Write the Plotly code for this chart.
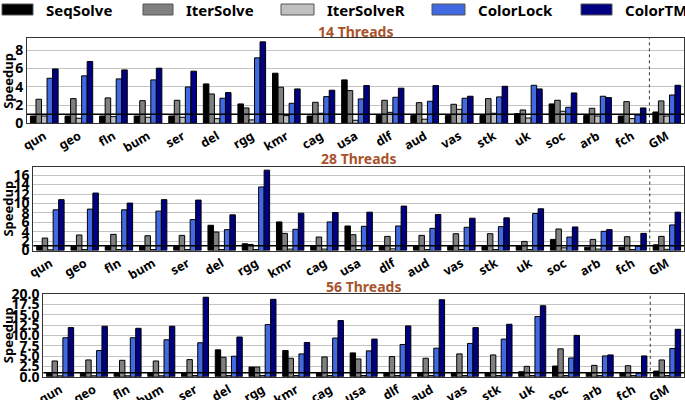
import plotly.graph_objects as go

categories = ["qun", "geo", "fln", "bum", "ser", "del", "rgg", "kmr", "cag", "usa",
              "dlf", "aud", "vas", "stk", "uk", "soc", "arb", "fch", "GM"]
series_names = ["SeqSolve", "IterSolve", "IterSolveR", "ColorLock", "ColorTM"]
series_colors = ["#000000", "#808080", "#c0c0c0", "#4169e1", "#000080"]

# 14 threads
seq14 = [0.80, 0.80, 0.80, 0.80, 0.80, 4.31, 2.12, 5.48, 0.80, 4.75, 0.84, 0.84, 0.84, 0.84, 1.06, 2.12, 0.84, 0.80, 1.24]
iter14 = [2.63, 2.70, 2.78, 2.48, 2.52, 3.21, 1.68, 3.95, 2.30, 3.58, 2.52, 2.26, 2.08, 2.70, 1.46, 2.52, 1.64, 2.37, 2.45]
iterR14 = [0.80, 0.55, 0.73, 0.66, 0.66, 0.51, 0.37, 0.84, 1.10, 0.33, 1.20, 0.45, 1.53, 1.10, 0.58, 1.32, 0.80, 0.51, 0.80]
cl14 = [4.93, 5.19, 4.86, 4.75, 3.98, 2.74, 7.16, 2.19, 2.92, 2.67, 2.85, 2.41, 2.74, 2.89, 4.16, 1.75, 2.96, 0.91, 3.10]
tm14 = [5.95, 6.76, 5.84, 6.03, 5.70, 3.36, 8.91, 3.76, 3.62, 4.13, 3.84, 4.13, 2.96, 4.05, 3.76, 3.32, 2.81, 1.68, 4.16]

# 28 threads
seq28 = [0.86, 0.86, 0.86, 0.86, 0.86, 5.36, 1.43, 6.07, 0.86, 5.21, 0.86, 0.86, 0.86, 0.86, 1.00, 2.36, 0.71, 0.71, 1.21]
iter28 = [2.64, 3.29, 3.43, 3.14, 3.21, 3.93, 1.29, 3.64, 2.86, 3.36, 3.00, 3.21, 3.57, 3.57, 1.93, 4.57, 2.36, 2.93, 3.00]
iterR28 = [0.15, 0.20, 0.20, 0.20, 0.20, 0.20, 0.20, 0.30, 0.30, 0.20, 0.36, 0.20, 0.20, 0.20, 0.20, 0.57, 0.30, 0.20, 0.25]
cl28 = [8.64, 8.79, 8.64, 8.36, 6.57, 4.43, 13.50, 4.50, 6.07, 5.14, 5.21, 4.71, 4.93, 5.07, 7.86, 2.86, 4.07, 0.86, 5.43]
tm28 = [10.80, 12.20, 10.07, 10.80, 10.71, 7.57, 17.07, 7.93, 8.07, 8.14, 9.43, 7.64, 6.86, 6.93, 8.86, 5.00, 4.43, 3.64, 8.14]

# 56 threads
seq56 = [0.90, 0.90, 0.90, 0.90, 0.90, 6.50, 2.36, 6.34, 0.90, 5.77, 0.90, 0.90, 0.90, 0.90, 1.22, 2.60, 0.90, 0.90, 1.38]
iter56 = [3.82, 4.07, 3.98, 3.82, 4.15, 4.72, 2.36, 4.47, 4.80, 4.31, 4.88, 4.47, 5.53, 5.28, 2.52, 6.75, 2.76, 2.68, 4.07]
iterR56 = [0.25, 0.25, 0.25, 0.25, 0.30, 0.30, 0.30, 0.30, 0.30, 0.30, 0.30, 0.30, 0.30, 0.30, 0.30, 0.30, 0.30, 0.30, 0.30]
cl56 = [9.43, 6.34, 9.43, 8.94, 8.21, 4.96, 12.60, 5.53, 9.35, 6.26, 7.80, 6.90, 8.05, 9.10, 14.55, 4.55, 5.04, 0.90, 6.83]
tm56 = [11.87, 12.20, 11.70, 12.20, 19.20, 9.60, 18.70, 8.29, 13.58, 9.10, 12.28, 18.60, 11.87, 12.68, 17.15, 10.00, 5.28, 5.04, 11.46]

panel_titles = ["14 Threads", "28 Threads", "56 Threads"]
panel_data = [[seq14, iter14, iterR14, cl14, tm14],
              [seq28, iter28, iterR28, cl28, tm28],
              [seq56, iter56, iterR56, cl56, tm56]]
y_max = [9.3, 17.8, 20.1]
y_dtick = [2, 2, 2.5]
y_fmt = ["d", "d", ".1f"]

W, H = 685, 400
FONT = "Noto Sans"
TITLE_COLOR = "#a9532d"

# pixel layout of each panel: left, top, bottom
geom = [(27, 38.3, 123.3), (33.3, 166.7, 250.5), (43.3, 293.5, 376.8)]
right_px = 684
title_y_px = [31, 158, 286]


def fx(p):
    return p / W


def fy(p):
    return 1 - p / H


fig = go.Figure()
layout = dict(
    width=W, height=H, autosize=False,
    margin=dict(l=0, r=0, t=0, b=0, pad=0, autoexpand=False),
    paper_bgcolor="white", plot_bgcolor="white",
    barmode="group", bargap=0.2, bargroupgap=0.0,
    showlegend=False,
    font=dict(family=FONT, color="black", size=13, weight="bold"),
)
shapes = []
annotations = []

for i in range(3):
    n = "" if i == 0 else str(i + 1)
    left, top, bottom = geom[i]
    for s in range(5):
        fig.add_trace(go.Bar(
            x=categories, y=panel_data[i][s], name=series_names[s],
            marker=dict(color=series_colors[s], line=dict(color="black", width=1)),
            xaxis="x" + n, yaxis="y" + n, showlegend=False,
        ))
    layout["xaxis" + n] = dict(
        domain=[fx(left), fx(right_px)], anchor="y" + n,
        range=[-0.5, len(categories) - 0.5], automargin=False,
        tickangle=-30, ticks="", showline=True, mirror=True,
        linecolor="#333333", linewidth=1,
        tickfont=dict(family=FONT, size=12.5, weight="bold", color="black"),
        showgrid=False,
    )
    layout["yaxis" + n] = dict(
        domain=[fy(bottom), fy(top)], anchor="x" + n, automargin=False,
        range=[0, y_max[i]], dtick=y_dtick[i], tick0=0, tickformat=y_fmt[i],
        showgrid=True, gridcolor="#c4c4c4", gridwidth=1.3,
        showline=True, mirror=True, linecolor="#333333", linewidth=1,
        ticks="", zeroline=False,
        tickfont=dict(family=FONT, size=14, weight="bold", color="black"),
    )
    # speedup = 1 reference line
    shapes.append(dict(type="line", xref="x" + n + " domain", x0=0, x1=1,
                       yref="y" + n, y0=1, y1=1,
                       line=dict(color="black", width=1.5)))
    # separator before GM
    shapes.append(dict(type="line", xref="x" + n, x0=17.5, x1=17.5,
                       yref="y" + n + " domain", y0=0, y1=1,
                       line=dict(color="#333333", width=1, dash="dot")))
    annotations.append(dict(text=panel_titles[i], xref="paper", yref="paper",
                            x=fx((left + right_px) / 2), y=fy(title_y_px[i]),
                            showarrow=False, xanchor="center", yanchor="middle",
                            font=dict(family=FONT, size=14, weight="bold", color=TITLE_COLOR)))
    annotations.append(dict(text="Speedup", xref="paper", yref="paper",
                            x=fx(8), y=fy((top + bottom) / 2), textangle=-90,
                            showarrow=False, xanchor="center", yanchor="middle",
                            font=dict(family=FONT, size=13, weight="bold", color="black")))

# legend row (swatches + labels)
swatch_x = [(2, 33), (143, 173), (281, 314), (432, 465), (581, 612)]
label_x = [44, 184, 325, 476, 623]
for s in range(5):
    x0, x1 = swatch_x[s]
    shapes.append(dict(type="rect", xref="paper", yref="paper",
                       x0=fx(x0), x1=fx(x1), y0=fy(15), y1=fy(4),
                       fillcolor=series_colors[s], line=dict(color="#555555", width=1)))
    annotations.append(dict(text=series_names[s], xref="paper", yref="paper",
                            x=fx(label_x[s]), y=fy(10), showarrow=False,
                            xanchor="left", yanchor="middle",
                            font=dict(family=FONT, size=15, weight="bold", color="black")))

layout["shapes"] = shapes
layout["annotations"] = annotations
fig.update_layout(**layout)
fig.write_html("out.html",
               config={"displayModeBar": False},
               post_script="document.body.style.margin='0px';document.body.style.overflow='hidden';")
